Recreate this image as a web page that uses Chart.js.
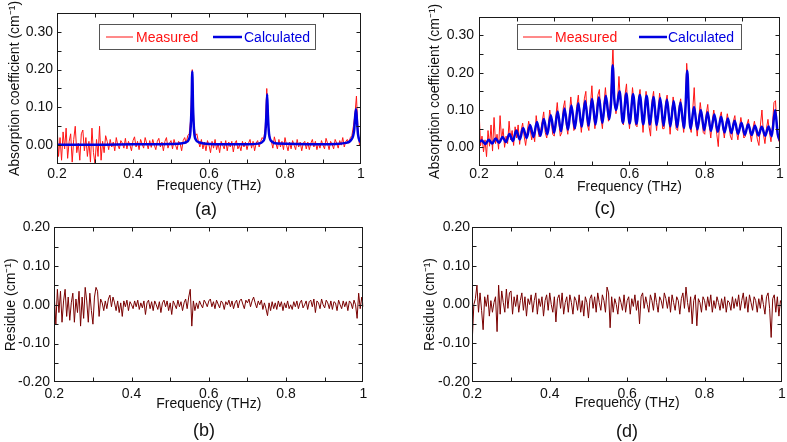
<!DOCTYPE html>
<html>
<head>
<meta charset="utf-8">
<script src="https://cdn.jsdelivr.net/npm/chart.js@4.4.1/dist/chart.umd.min.js"></script>
<style>
  html, body { margin: 0; padding: 0; background: #fff; }
  #fig { position: relative; width: 787px; height: 442px; overflow: hidden; }
  #fig canvas { position: absolute; }
</style>
</head>
<body>
<div id="fig">
  <canvas id="pa" width="393" height="221" style="left:0;top:0"></canvas>
  <canvas id="pc" width="394" height="221" style="left:393px;top:0"></canvas>
  <canvas id="pb" width="393" height="227" style="left:0;top:215px"></canvas>
  <canvas id="pd" width="394" height="227" style="left:393px;top:215px"></canvas>
</div>
<script>
/* Absorption spectra (a, c) with fitted model, and fit residues (b, d).
 * Measured / residue traces share one frequency grid (0.2-1.0 THz, 0.004 step).
 */

// ---- data ----
const F_START = 0.2, F_STEP = 0.004;

// (a) measured absorption, cm^-1
const MEAS_A = [
  .055,-.03,.02,-.04,.035,-.01,.045,-.035,.01,.03,
  -.045,.015,.05,-.02,.005,-.04,.03,.04,-.015,.02,
  -.03,.01,-.045,.045,-.02,-.05,.015,-.03,.05,-.04,
  .01,-.02,.025,.01,-.012,.015,-.005,.008,-.015,.02,
  0,-.01,.012,.005,-.008,.018,-.01,.01,0,-.015,
  .012,.022,-.005,.01,-.012,.015,.003,-.008,.02,.005,
  -.01,.012,-.006,.015,0,-.012,.01,.018,-.005,.008,
  -.015,.01,.02,-.008,.005,.012,-.01,.015,0,-.012,
  .01,.005,-.015,.012,.02,.005,.025,.03,.07,.2,
  .06,.025,.03,.01,-.005,.015,-.01,.008,-.015,.012,
  0,-.02,.01,-.008,.015,-.012,.005,-.02,.01,0,
  -.01,.012,-.015,.008,-.005,.01,-.018,.005,.012,-.01,
  0,-.015,.01,-.005,.008,-.012,.005,.015,-.008,.01,
  -.015,.005,.012,-.005,.01,.02,.015,.045,.15,.05,
  .02,.01,-.008,.022,.005,-.01,.015,-.005,.01,-.012,
  .02,0,-.015,.008,-.01,.012,0,-.012,.015,-.005,
  .008,-.015,.005,.01,-.01,.008,-.012,.005,.015,-.005,
  .01,-.012,.005,-.008,.012,0,-.01,.018,.005,-.012,
  .01,.002,-.01,.015,.005,-.008,.012,0,.02,-.005,
  .01,.015,.005,.02,.025,.05,.08,.13,.04,0,
  .01
];

// (a) calculated absorption (model line)
const CALC_A_X = [0.2, 0.3, 0.4, 0.5, 0.53, 0.54, 0.547, 0.551, 0.554, 0.556, 0.558, 0.561, 0.565, 0.575, 0.6,
  0.7, 0.73, 0.742, 0.748, 0.751, 0.753, 0.755, 0.758, 0.765, 0.78, 0.9, 0.96, 0.975, 0.982, 0.985, 0.987,
  0.989, 0.992, 0.996, 1.0];
const CALC_A_Y = [0.001, 0.001, 0.002, 0.003, 0.005, 0.008, 0.015, 0.035, 0.1, 0.195, 0.1, 0.035, 0.015, 0.007, 0.003,
  0.002, 0.004, 0.01, 0.03, 0.08, 0.135, 0.08, 0.03, 0.01, 0.004, 0.002, 0.006, 0.015, 0.04, 0.08, 0.095,
  0.07, 0.03, 0.012, 0.007];

// (b) residue of (a)
const RES_B = [
  .02,-.05,.04,-.02,.035,-.045,.01,.04,-.03,.02,
  -.04,.005,.03,-.045,.015,-.02,.035,-.055,.02,-.035,
  .045,.01,-.045,.03,-.015,-.05,.02,.045,.035,-.03,
  .015,.005,-.015,.01,-.01,.015,.025,-.005,.02,.005,
  -.015,.01,-.02,.005,-.03,.01,-.005,.012,-.015,.008,
  0,-.01,.01,-.005,.012,-.012,.005,-.008,.01,-.025,
  .005,.012,-.01,.008,-.015,.01,0,-.012,.008,-.02,
  .005,.012,-.005,.01,-.015,.005,-.025,.01,0,-.01,
  .012,-.005,.008,-.015,.005,.015,-.01,.02,.04,-.055,
  .01,-.015,.005,-.01,.01,0,-.008,.012,.005,-.005,
  .01,.015,-.005,.008,-.01,.012,.002,-.008,.01,.005,
  -.012,.008,0,.012,-.005,.01,-.01,.005,.012,-.008,
  .01,.015,.002,-.01,.012,.005,.015,-.005,.01,.02,
  .005,-.008,.01,0,.012,-.012,.005,-.01,-.028,.005,
  -.015,.008,-.01,.005,-.012,.01,-.005,.008,-.015,.005,
  -.008,.01,-.01,0,-.012,.008,-.005,.01,-.01,.005,
  .012,-.008,0,.01,-.012,.008,.012,-.005,.015,-.02,
  .01,.005,-.01,.015,0,-.008,.012,.005,-.01,.01,
  -.012,.008,.005,-.015,.012,0,-.01,.01,-.005,.008,
  -.015,.01,.005,-.01,.012,0,-.035,.03,-.01,.02,
  -.005
];

// (c) measured absorption
const MEAS_C = [
  .105,.004,.03,-.012,.02,-.025,.045,.003,.06,-.01,
  .08,.01,.035,-.005,.085,.02,.05,0,.03,.01,
  .07,.02,.045,.005,.055,.025,.06,.008,.045,.065,
  .03,.005,.04,.07,.05,.02,.04,.015,.085,.05,
  .028,.045,.07,.095,.04,.025,.055,.1,.07,.035,
  .03,.08,.12,.07,.03,.04,.105,.125,.06,.035,
  .085,.135,.09,.045,.05,.11,.14,.08,.04,.085,
  .13,.15,.06,.045,.11,.165,.095,.05,.09,.14,
  .155,.08,.05,.115,.16,.11,.07,.105,.17,.27,
  .13,.09,.12,.19,.12,.07,.06,.14,.17,.09,
  .05,.1,.16,.12,.06,.055,.13,.155,.095,.04,
  .1,.15,.11,.055,.03,.125,.15,.09,.045,.095,
  .145,.11,.05,.05,.12,.14,.085,.035,.09,.135,
  .1,.05,.045,.11,.13,.075,.04,.09,.225,.16,
  .06,.04,.1,.16,.07,.03,.075,.12,.085,.04,
  .035,.09,.115,.06,.025,.07,.1,.07,.035,.002,
  .08,.095,.055,.025,.06,.09,.065,.03,.02,.07,
  .085,.045,.02,.05,.08,.055,.025,.03,.06,.075,
  .04,.015,.05,.07,.045,.02,.005,.06,.1,.035,
  .01,.05,.075,.04,.015,.06,.12,.125,.05,.02,
  .01
];

// (c) calculated absorption: fringe maxima / minima
const CALC_C_X = [0.2, 0.2076, 0.2168, 0.2259, 0.235, 0.2442, 0.2534, 0.2625, 0.2717, 0.2808, 0.29,
  0.2991, 0.3083, 0.3174, 0.3266, 0.3357, 0.3449, 0.354, 0.3632, 0.3723, 0.3815, 0.3906, 0.3998,
  0.4089, 0.4181, 0.4272, 0.4364, 0.4455, 0.4547, 0.4638, 0.473, 0.4821, 0.4913, 0.5004, 0.5096,
  0.5187, 0.5279, 0.537, 0.5462, 0.551, 0.5553, 0.5595, 0.5644, 0.5735, 0.5825, 0.5915, 0.6005,
  0.6095, 0.6185, 0.6275, 0.6365, 0.6455, 0.6545, 0.6635, 0.6725, 0.6815, 0.6905, 0.6995, 0.7085,
  0.7175, 0.7265, 0.7355, 0.7445, 0.749, 0.7535, 0.758, 0.7625, 0.7715, 0.7805, 0.7895, 0.7985,
  0.8075, 0.8165, 0.8255, 0.8345, 0.8435, 0.8525, 0.8615, 0.8705, 0.8795, 0.8885, 0.8975, 0.9065,
  0.9155, 0.9245, 0.9335, 0.9425, 0.9515, 0.9605, 0.9695, 0.978, 0.987, 0.994, 1.0];
const CALC_C_Y = [0.014, 0.018, 0.009, 0.020, 0.010, 0.024, 0.012, 0.028, 0.014, 0.036, 0.017,
  0.045, 0.021, 0.052, 0.025, 0.060, 0.028, 0.068, 0.031, 0.076, 0.035, 0.086, 0.039,
  0.096, 0.043, 0.104, 0.047, 0.112, 0.051, 0.118, 0.055, 0.124, 0.058, 0.130, 0.061,
  0.134, 0.065, 0.138, 0.075, 0.120, 0.220, 0.130, 0.100, 0.150, 0.066, 0.144, 0.064,
  0.142, 0.063, 0.140, 0.062, 0.138, 0.061, 0.135, 0.060, 0.132, 0.058, 0.128, 0.056,
  0.124, 0.054, 0.120, 0.052, 0.110, 0.205, 0.100, 0.050, 0.108, 0.048, 0.100, 0.046,
  0.094, 0.044, 0.088, 0.042, 0.082, 0.040, 0.077, 0.038, 0.071, 0.036, 0.066, 0.034,
  0.062, 0.033, 0.058, 0.032, 0.055, 0.031, 0.056, 0.030, 0.100, 0.035, 0.018];

// (d) residue of (c)
const RES_D = [
  -.09,0,.015,.05,-.02,.03,-.015,-.065,.02,-.005,
  .025,-.03,.01,-.02,.005,.02,-.07,.05,-.025,.035,
  .005,-.02,.04,-.01,.03,.035,-.025,.02,-.005,.025,
  -.02,.01,.03,-.015,.02,-.03,.015,0,.025,-.02,
  .01,.03,-.025,.015,-.005,.02,-.03,.01,.025,-.015,
  .03,0,-.02,.02,-.045,.015,.025,-.01,.03,-.025,
  .005,.02,-.02,.025,.005,-.025,.02,.01,-.015,.025,
  -.02,.01,-.03,.02,.005,-.035,.015,.025,-.01,.02,
  -.02,.03,.005,-.015,.025,.01,-.02,.045,.03,-.06,
  .02,-.02,.015,0,-.025,.02,.005,-.015,.025,-.02,
  .01,.02,-.025,.015,-.005,.025,-.015,.01,-.05,.02,
  .03,-.01,.02,0,-.02,.025,.01,-.015,.03,.005,
  -.02,.02,.01,-.01,.03,.015,-.01,.02,-.02,.025,
  .005,-.015,.02,.01,-.025,.015,.03,-.01,.045,.005,
  -.02,.02,-.05,.01,.025,-.055,.015,.005,-.02,.02,
  .01,-.015,.02,-.005,.025,-.02,.01,-.01,.02,.005,
  -.015,.015,-.01,.02,-.02,.01,.005,-.015,.02,-.01,
  .015,-.005,.025,-.015,.01,.03,-.01,.02,-.02,.025,
  .005,-.015,.02,.01,-.02,.015,-.01,.025,0,-.025,
  .02,.03,-.01,-.085,.015,.025,-.02,.02,-.03,.01,
  0
];

const FREQ = MEAS_A.map((_, i) => +(F_START + i * F_STEP).toFixed(3));

// axis ticks
const X_LABELS = [0.2, 0.4, 0.6, 0.8, 1.0];
const X_MARKS = [0.3, 0.4, 0.5, 0.6, 0.7, 0.8, 0.9];
const ABS_LABELS = [0, 0.1, 0.2, 0.3];
const ABS_MARKS = [0, 0.05, 0.1, 0.15, 0.2, 0.25, 0.3];
const RES_LABELS = [-0.2, -0.1, 0, 0.1, 0.2];
const RES_MARKS = [-0.15, -0.1, -0.05, 0, 0.05, 0.1, 0.15];

// ---- style ----
const FONT = '"Liberation Sans", Arial, Helvetica, sans-serif';
const INK = "#111";
const RED = "#ff1414";
const BLUE = "#0000e0";
const MAROON = "#7a0000";
const TICK_LEN = 4;

Chart.defaults.font.family = FONT;
Chart.defaults.font.size = 14;
Chart.defaults.color = INK;

// panel geometry, canvas-local px
const LAYOUT = {
  a: { cw: 393, ch: 221, L: 57, T: 13, R: 361, B: 164, xLab: 174, xTitle: 186, tagX: 206, tagY: 210, yTitle: 15, yLab: 53 },
  c: { cw: 394, ch: 221, L: 86, T: 16.7, R: 387, B: 166, xLab: 174, xTitle: 187.5, tagX: 212, tagY: 209, yTitle: 42, yLab: 81 },
  b: { cw: 393, ch: 227, L: 54.3, T: 12.3, R: 363.3, B: 167.3, xLab: 179, xTitle: 189, tagX: 204, tagY: 215.7, yTitle: 11, yLab: 50 },
  d: { cw: 394, ch: 227, L: 79.3, T: 12, R: 389, B: 167, xLab: 179, xTitle: 188, tagX: 234, tagY: 216.7, yTitle: 36.7, yLab: 77 },
};
// legend box relative to plot corner: [lineStart, lineEnd, textStart] per entry
const LEGEND_A = { dx: 42, dy: 11, w: 216, h: 25, items: [[49, 76, 79], [156, 185, 187]] };
const LEGEND_C = { dx: 38, dy: 7.3, w: 224, h: 25, items: [[44, 73, 76], [160, 188, 189]] };
const LEGEND_ORDER = ["Measured", "Calculated"];

const pts = (xs, ys) => xs.map((x, i) => ({ x, y: ys[i] }));

// frame with inward ticks on all sides, boxed legend, panel tag
function decor(p) {
  return {
    id: "decor",
    afterDraw(chart) {
      const { ctx, chartArea: a } = chart;
      const xs = chart.scales.x, ys = chart.scales.y;
      const l = Math.round(a.left) + 0.5, r = Math.round(a.right) - 0.5;
      const t = Math.round(a.top) + 0.5, b = Math.round(a.bottom) - 0.5;
      ctx.save();
      ctx.strokeStyle = "#1a1a1a";
      ctx.lineWidth = 1;
      ctx.strokeRect(l, t, r - l, b - t);
      ctx.beginPath();
      for (const v of X_MARKS) {
        const px = Math.round(xs.getPixelForValue(v)) + 0.5;
        ctx.moveTo(px, b); ctx.lineTo(px, b - TICK_LEN);
        ctx.moveTo(px, t); ctx.lineTo(px, t + TICK_LEN);
      }
      for (const v of p.yMarks) {
        const py = Math.round(ys.getPixelForValue(v)) + 0.5;
        ctx.moveTo(l, py); ctx.lineTo(l + TICK_LEN, py);
        ctx.moveTo(r, py); ctx.lineTo(r - TICK_LEN, py);
      }
      ctx.stroke();

      if (p.legend) {
        const g = p.legend;
        const bx = Math.round(a.left + g.dx) + 0.5, by = Math.round(a.top + g.dy) + 0.5;
        ctx.fillStyle = "#fff";
        ctx.fillRect(bx, by, g.w, g.h);
        ctx.strokeStyle = "#555";
        ctx.strokeRect(bx, by, g.w, g.h);
        const cy = Math.round(by + g.h / 2);
        ctx.font = "14px " + FONT;
        ctx.textAlign = "left";
        ctx.textBaseline = "middle";
        LEGEND_ORDER.forEach((label, k) => {
          const ds = chart.data.datasets.find((d) => d.label === label);
          const [x0, x1, tx] = g.items[k];
          ctx.strokeStyle = ds.borderColor;
          ctx.lineWidth = ds.borderWidth;
          ctx.beginPath();
          ctx.moveTo(a.left + x0, cy); ctx.lineTo(a.left + x1, cy);
          ctx.stroke();
          ctx.fillStyle = ds.borderColor;
          ctx.fillText(label, a.left + tx, cy + 1);
        });
      }

      ctx.font = "18px " + FONT;
      ctx.fillStyle = INK;
      ctx.textAlign = "center";
      ctx.textBaseline = "middle";
      ctx.fillText(p.tag, p.lay.tagX, p.lay.tagY);
      ctx.restore();
    },
  };
}

function panel(id, lay, datasets, yMin, yMax, yLabels, yMarks, yTitle, tag, legend) {
  return new Chart(document.getElementById(id), {
    type: "line",
    data: { datasets },
    options: {
      responsive: false,
      animation: false,
      events: [],
      layout: { padding: { left: 0, top: lay.T, right: lay.cw - lay.R, bottom: 0 } },
      elements: { point: { radius: 0 } },
      plugins: { legend: { display: false }, tooltip: { enabled: false } },
      scales: {
        x: {
          type: "linear", min: 0.2, max: 1,
          grid: { display: false, drawTicks: false },
          border: { display: false },
          afterBuildTicks: (s) => { s.ticks = X_LABELS.map((value) => ({ value })); },
          afterFit: (s) => { s.height = lay.ch - lay.B; s.paddingLeft = 0; s.paddingRight = 0; },
          ticks: {
            maxRotation: 0, autoSkip: false,
            padding: lay.xLab - lay.B - 7,
            font: { size: 14, lineHeight: 1 },
            callback: (v) => (Math.abs(v - 1) < 1e-9 ? "1" : v.toFixed(1)),
          },
          title: {
            display: true, text: "Frequency (THz)",
            font: { size: 14, lineHeight: 1 },
            padding: { top: 0, bottom: lay.ch - 7 - lay.xTitle },
          },
        },
        y: {
          type: "linear", min: yMin, max: yMax,
          grid: { display: false, drawTicks: false },
          border: { display: false },
          afterBuildTicks: (s) => { s.ticks = yLabels.map((value) => ({ value })); },
          afterFit: (s) => { s.width = lay.L; s.paddingTop = 0; s.paddingBottom = 0; },
          ticks: {
            autoSkip: false,
            padding: lay.L - lay.yLab,
            font: { size: 14, lineHeight: 1 },
            callback: (v) => (Math.abs(v) < 1e-9 ? 0 : v).toFixed(2),
          },
          title: {
            display: true, text: yTitle,
            font: { size: 14, lineHeight: 1 },
            padding: { top: lay.yTitle - 7, bottom: 0 },
          },
        },
      },
    },
    plugins: [decor({ lay, yMarks, tag, legend })],
  });
}

const measured = (ys) => ({
  label: "Measured", data: pts(FREQ, ys),
  borderColor: RED, borderWidth: 1, tension: 0, order: 1,
});
const calculated = (xs, ys) => ({
  label: "Calculated", data: pts(xs, ys),
  borderColor: BLUE, borderWidth: 2.5, cubicInterpolationMode: "monotone", order: 0,
});
const residue = (ys) => ({
  label: "Residue", data: pts(FREQ, ys),
  borderColor: MAROON, borderWidth: 1, tension: 0,
});

const ABS_TITLE = "Absorption coefficient (cm\u207B\u00B9)";
const RES_TITLE = "Residue (cm\u207B\u00B9)";

panel("pa", LAYOUT.a, [measured(MEAS_A), calculated(CALC_A_X, CALC_A_Y)],
  -0.05, 0.35, ABS_LABELS, ABS_MARKS, ABS_TITLE, "(a)", LEGEND_A);
panel("pc", LAYOUT.c, [measured(MEAS_C), calculated(CALC_C_X, CALC_C_Y)],
  -0.05, 0.35, ABS_LABELS, ABS_MARKS, ABS_TITLE, "(c)", LEGEND_C);
panel("pb", LAYOUT.b, [residue(RES_B)],
  -0.2, 0.2, RES_LABELS, RES_MARKS, RES_TITLE, "(b)", null);
panel("pd", LAYOUT.d, [residue(RES_D)],
  -0.2, 0.2, RES_LABELS, RES_MARKS, RES_TITLE, "(d)", null);
</script>
</body>
</html>
